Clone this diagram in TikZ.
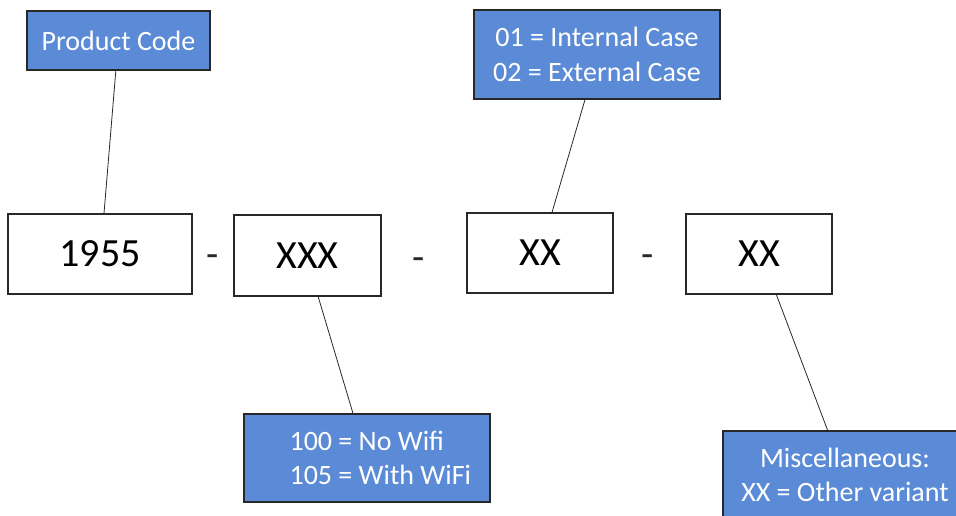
\documentclass[tikz,border=0pt]{standalone}
\usepackage{fontspec}
\setmainfont{Carlito}
\definecolor{boxblue}{RGB}{91,139,214}
\definecolor{edge}{RGB}{40,40,40}
\tikzset{
  bluebox/.style={draw=edge, line width=0.9pt, fill=boxblue, text=white, inner sep=0pt,
    font=\fontsize{21}{26}\selectfont, align=center},
  codebox/.style={draw=edge, line width=0.9pt, fill=white, inner sep=0pt,
    font=\fontsize{30}{36}\selectfont},
  sepdash/.style={inner sep=0pt, font=\fontsize{30}{36}\selectfont, text=edge},
  link/.style={draw=edge, line width=0.6pt}
}
\begin{document}
\begin{tikzpicture}[x=0.75pt, y=-0.75pt]
\useasboundingbox (0,0) rectangle (956,515);
\clip (0,0) rectangle (956,515);
% code boxes
\node[codebox, minimum width=138pt, minimum height=60pt] (n1) at (100,254) {1955};
\node[codebox, minimum width=110.25pt, minimum height=60.75pt] (n2) at (307.5,255.5) {XXX};
\node[codebox, minimum width=109.5pt, minimum height=60pt] (n3) at (540,253) {XX};
\node[codebox, minimum width=109.5pt, minimum height=60pt] (n4) at (759,254) {XX};
% dashes
\node[sepdash] (d1) at (213,261) {-};
\node[sepdash] (d2) at (419,264) {-};
\node[sepdash] (d3) at (648,261) {-};
% description boxes
\node[bluebox, minimum width=137.25pt, minimum height=44.25pt] (pc) at (118.5,40.5) {Product Code};
\node[bluebox, minimum width=184.5pt, minimum height=66.75pt] (ic) at (597,54.5) {01 = Internal Case\\02 = External Case};
\node[bluebox, align=left, minimum width=184.5pt, minimum height=66pt] (wifi) at (367,458) {\hspace*{20pt}100 = No Wifi\\\hspace*{20pt}105 = With WiFi};
\node[bluebox, minimum width=183pt, minimum height=66pt] (misc) at (845,475) {Miscellaneous:\\XX = Other variant};
% connectors
\draw[link] ([xshift=-2pt]pc.south) -- ([xshift=3pt]n1.north);
\draw[link] ([xshift=-9pt]ic.south) -- ([xshift=9pt]n3.north);
\draw[link] ([xshift=8pt]n2.south) -- ([xshift=-10.5pt]wifi.north);
\draw[link] ([xshift=13pt]n4.south) -- ([xshift=-13pt]misc.north);
\end{tikzpicture}
\end{document}
